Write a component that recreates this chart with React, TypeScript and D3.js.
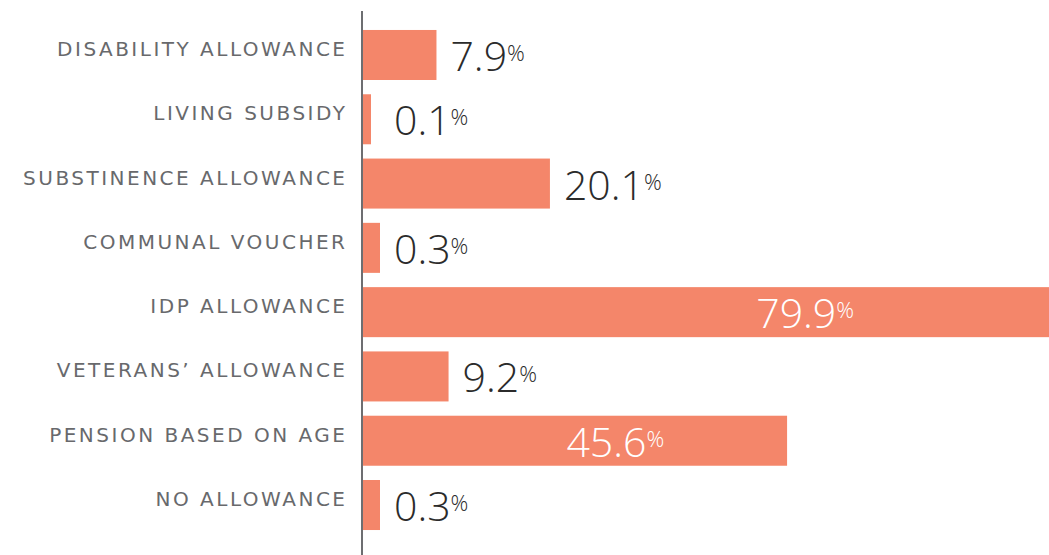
import { useEffect, useRef } from "react";
import * as d3 from "d3";

const categories = [
  "DISABILITY ALLOWANCE",
  "LIVING SUBSIDY",
  "SUBSTINENCE ALLOWANCE",
  "COMMUNAL VOUCHER",
  "IDP ALLOWANCE",
  "VETERANS’ ALLOWANCE",
  "PENSION BASED ON AGE",
  "NO ALLOWANCE",
];
const values = [7.9, 0.1, 20.1, 0.3, 79.9, 9.2, 45.6, 0.3];

const W = 1049;
const H = 555;
const BAR = "#f4866a";
const LS = 2.5; // letter spacing of category labels

export default function App() {
  const svgRef = useRef<SVGSVGElement>(null);

  useEffect(() => {
    const svg = d3.select(svgRef.current);
    svg.selectAll("*").remove();

    const rows = categories.map((c, i) => ({ c, v: values[i] }));

    // y bands
    const y = d3
      .scaleBand<string>()
      .domain(categories)
      .range([15.7, 544.3])
      .padding(0.222);

    // x: linear, with tiny values stretched a bit so they stay visible
    const x0 = 363;
    const k = 9.3;
    const x = d3
      .scaleLinear()
      .domain([0, 0.1, 0.3, 2, 80])
      .range([361, 371, 380, x0 + 2 * k, x0 + 80 * k]);

    // bars
    svg
      .selectAll("rect.bar")
      .data(rows)
      .join("rect")
      .attr("class", "bar")
      .attr("x", (d) => (d.v < 1 ? x(0) : x0))
      .attr("y", (d) => y(d.c)!)
      .attr("width", (d) => x(d.v) - (d.v < 1 ? x(0) : x0))
      .attr("height", y.bandwidth())
      .attr("fill", BAR);

    // axis line
    svg
      .append("line")
      .attr("x1", 362)
      .attr("x2", 362)
      .attr("y1", 11)
      .attr("y2", H)
      .attr("stroke", "#6d6e71")
      .attr("stroke-width", 2);

    // category labels
    svg
      .selectAll("text.cat")
      .data(rows)
      .join("text")
      .attr("class", "cat")
      .attr("x", 345 + LS)
      .attr("y", (d) => y(d.c)! + y.bandwidth() / 2 + 1)
      .attr("text-anchor", "end")
      .attr("fill", "#68696c")
      .style("font-family", "'DejaVu Sans', sans-serif")
      .style("font-size", "20px")
      .style("letter-spacing", `${LS}px`)
      .text((d) => d.c);

    // value labels
    const lbl = svg
      .selectAll("text.val")
      .data(rows)
      .join("text")
      .attr("class", "val")
      .attr("x", (d) =>
        d.v > 40 ? x(d.v * 0.595) : Math.max(x(d.v) + 14, 394)
      )
      .attr("y", (d) => y(d.c)! + y.bandwidth() / 2 + 16)
      .attr("text-anchor", (d) => (d.v > 40 ? "middle" : "start"))
      .attr("fill", (d) => (d.v > 40 ? "#ffffff" : "#2b2b2b"))
      .style("font-family", "'Open Sans', sans-serif")
      .style("font-weight", 300)
      .style("font-size", "41px");
    lbl.append("tspan").text((d) => d3.format(".1f")(d.v));
    lbl
      .append("tspan")
      .attr("dy", -10)
      .style("font-size", "22px")
      .text("%");
  }, []);

  return (
    <>
      <style>{"body{margin:0}"}</style>
      <svg ref={svgRef} width={W} height={H} style={{ display: "block" }} />
    </>
  );
}
